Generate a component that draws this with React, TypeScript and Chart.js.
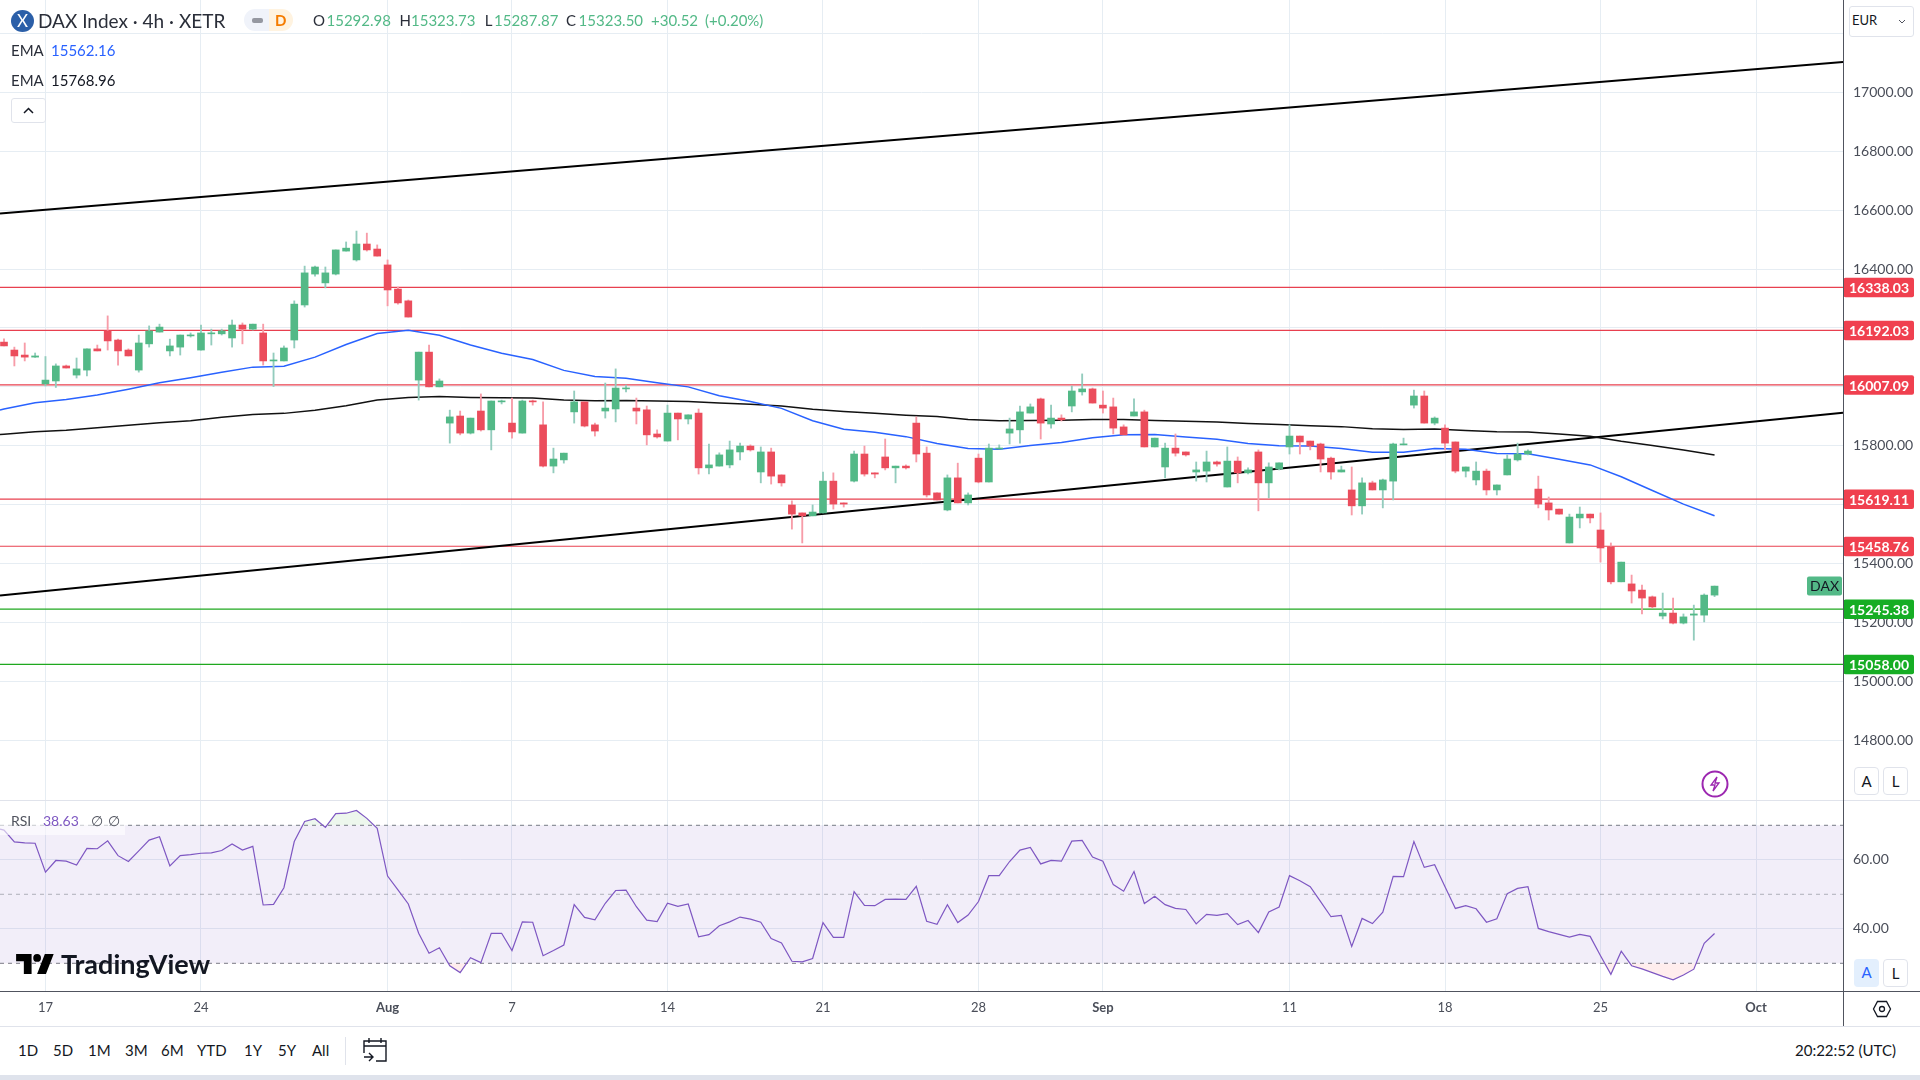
import React, { useEffect, useRef } from "react";
import { Chart, registerables } from "chart.js";

Chart.register(...registerables);

const X_MIN = -0.386;
const X_MAX = 177.39;
const PRICE_MIN = 14597.3;
const PRICE_MAX = 17313.5;
const RSI_MIN = 21.97;
const RSI_MAX = 77.33;
const AXIS_WIDTH = 77;

// 4h bars, the chart starts at bar 0 and ends at bar 165
const opens = [
  16152, 16125, 16108, 16101, 16010, 16020, 16071, 16040, 16057, 16129,
  16190, 16159, 16125, 16057, 16146, 16186, 16122, 16135, 16173, 16125,
  16180, 16180, 16166, 16210, 16196, 16183, 16088, 16088, 16159, 16278,
  16383, 16353, 16383, 16461, 16431, 16485, 16468, 16414, 16332, 16292,
  16023, 16118, 16000, 15877, 15901, 15843, 15918, 15854, 15949, 15877,
  15843, 15952, 15871, 15731, 15752, 15915, 15949, 15871, 15918, 15925,
  15993, 15928, 15922, 15840, 15816, 15911, 15891, 15911, 15725, 15731,
  15735, 15779, 15799, 15711, 15779, 15701, 15599, 15572, 15562, 15572,
  15680, 15606, 15680, 15772, 15708, 15762, 15725, 15731, 15877, 15775,
  15640, 15582, 15691, 15606, 15758, 15677, 15789, 15843, 15854, 15911,
  15959, 15874, 15894, 15935, 15983, 15993, 15938, 15932, 15864, 15901,
  15915, 15796, 15728, 15792, 15779, 15711, 15714, 15745, 15660, 15748,
  15708, 15779, 15674, 15721, 15796, 15833, 15816, 15806, 15758, 15711,
  15650, 15596, 15674, 15650, 15680, 15803, 15938, 15969, 15877, 15860,
  15813, 15714, 15684, 15714, 15650, 15701, 15752, 15772, 15653, 15606,
  15585, 15470, 15555, 15568, 15514, 15457, 15338, 15331, 15310, 15287,
  15222, 15232, 15198, 15225, 15225, 15292.98,
];
const highs = [
  16163, 16135, 16149, 16115, 16103, 16078, 16074, 16098, 16129, 16142,
  16241, 16162, 16129, 16176, 16207, 16213, 16162, 16176, 16183, 16210,
  16196, 16196, 16227, 16217, 16213, 16213, 16115, 16139, 16292, 16410,
  16410, 16407, 16465, 16492, 16529, 16522, 16482, 16431, 16339, 16295,
  16118, 16142, 16027, 15921, 15918, 15894, 15976, 15952, 15955, 15962,
  15955, 15955, 15949, 15792, 15775, 15986, 15949, 15877, 16013, 16061,
  16006, 15962, 15935, 15854, 15938, 15911, 15905, 15925, 15806, 15776,
  15816, 15809, 15803, 15796, 15792, 15701, 15613, 15572, 15599, 15711,
  15708, 15606, 15782, 15799, 15708, 15823, 15731, 15735, 15898, 15796,
  15640, 15701, 15741, 15640, 15772, 15806, 15803, 15894, 15935, 15942,
  15962, 15938, 15905, 16003, 16044, 15996, 15986, 15962, 15871, 15959,
  15921, 15826, 15809, 15840, 15779, 15745, 15782, 15748, 15796, 15762,
  15725, 15786, 15742, 15742, 15871, 15833, 15816, 15809, 15762, 15731,
  15728, 15691, 15680, 15687, 15809, 15826, 15989, 15986, 15898, 15871,
  15813, 15728, 15745, 15721, 15667, 15769, 15809, 15786, 15697, 15626,
  15585, 15568, 15592, 15568, 15572, 15470, 15405, 15361, 15327, 15290,
  15300, 15283, 15229, 15259, 15297, 15323.73,
];
const lows = [
  16139, 16071, 16088, 16100, 16003, 15998, 16064, 16030, 16037, 16122,
  16125, 16074, 16105, 16050, 16135, 16186, 16105, 16108, 16169, 16125,
  16142, 16176, 16135, 16146, 16193, 16074, 16001, 16088, 16132, 16271,
  16376, 16336, 16380, 16461, 16427, 16461, 16444, 16275, 16281, 16237,
  15955, 16000, 16000, 15809, 15837, 15840, 15850, 15786, 15942, 15826,
  15843, 15938, 15728, 15708, 15741, 15877, 15864, 15833, 15894, 15881,
  15983, 15874, 15803, 15826, 15816, 15820, 15874, 15704, 15704, 15731,
  15725, 15752, 15782, 15674, 15670, 15663, 15517, 15470, 15562, 15572,
  15585, 15592, 15677, 15697, 15691, 15718, 15674, 15721, 15745, 15626,
  15616, 15579, 15606, 15599, 15674, 15677, 15789, 15806, 15809, 15911,
  15823, 15860, 15884, 15915, 15972, 15945, 15911, 15840, 15837, 15901,
  15796, 15796, 15691, 15765, 15765, 15680, 15677, 15731, 15660, 15674,
  15704, 15579, 15623, 15718, 15772, 15772, 15786, 15711, 15687, 15711,
  15565, 15568, 15650, 15589, 15616, 15803, 15928, 15877, 15871, 15786,
  15708, 15694, 15667, 15633, 15633, 15701, 15748, 15769, 15589, 15548,
  15568, 15470, 15521, 15538, 15405, 15331, 15338, 15266, 15229, 15249,
  15212, 15195, 15195, 15140, 15202, 15287.87,
];
const closes = [
  16139, 16105, 16101, 16105, 16023, 16071, 16064, 16061, 16129, 16122,
  16156, 16122, 16105, 16149, 16190, 16203, 16139, 16176, 16176, 16183,
  16183, 16190, 16210, 16196, 16213, 16088, 16091, 16132, 16281, 16387,
  16407, 16387, 16465, 16471, 16485, 16465, 16444, 16329, 16285, 16237,
  16118, 16000, 16020, 15898, 15843, 15894, 15854, 15952, 15952, 15847,
  15952, 15949, 15731, 15755, 15775, 15949, 15867, 15850, 15928, 15996,
  15996, 15918, 15837, 15830, 15911, 15891, 15905, 15725, 15735, 15769,
  15786, 15799, 15786, 15779, 15697, 15674, 15568, 15562, 15575, 15680,
  15602, 15602, 15772, 15704, 15704, 15725, 15731, 15725, 15772, 15633,
  15616, 15691, 15606, 15633, 15677, 15792, 15792, 15857, 15915, 15932,
  15877, 15894, 15888, 15986, 15993, 15945, 15928, 15860, 15837, 15915,
  15796, 15826, 15792, 15775, 15769, 15718, 15745, 15738, 15748, 15708,
  15718, 15674, 15728, 15742, 15833, 15813, 15799, 15755, 15711, 15718,
  15596, 15674, 15650, 15684, 15806, 15806, 15969, 15877, 15894, 15809,
  15714, 15728, 15714, 15650, 15667, 15755, 15772, 15782, 15602, 15582,
  15568, 15558, 15568, 15555, 15453, 15338, 15405, 15307, 15283, 15253,
  15232, 15198, 15219, 15229, 15293, 15323.5,
];

const emaBars = [X_MIN, ...closes.map((_, i) => i).filter((i) => i % 3 === 0)];
const emaFast = [
  15921, 15925, 15946, 15957, 15972, 15992, 16014, 16031, 16050, 16067, 16070,
  16101, 16144, 16181, 16192, 16175, 16142, 16114, 16093, 16056, 16035,
  16029, 16014, 16000, 15970, 15950, 15927, 15885, 15856, 15846, 15831,
  15808, 15791, 15788, 15801, 15811, 15827, 15837, 15838, 15830, 15822,
  15808, 15800, 15799, 15791, 15778, 15778, 15791, 15788, 15774, 15773,
  15754, 15735, 15695, 15648, 15602, 15562.16,
];
const emaSlow = [
  15838, 15839, 15848, 15853, 15861, 15870, 15878, 15885, 15897, 15906, 15910,
  15921, 15936, 15955, 15964, 15967, 15964, 15963, 15962, 15955, 15953,
  15954, 15952, 15950, 15945, 15941, 15935, 15924, 15916, 15910, 15904,
  15899, 15889, 15885, 15886, 15887, 15889, 15889, 15886, 15883, 15881,
  15876, 15872, 15868, 15865, 15858, 15855, 15857, 15852, 15848, 15847,
  15840, 15832, 15815, 15801, 15786, 15768.96,
];

const rsiLeftEdge = 68.9;
const rsiValues = [
  68.6, 65.2, 64.9, 64.8, 56.4, 59.8, 59.6, 58.5, 63.3, 63.2,
  65.5, 61.2, 59.5, 62.6, 65.7, 66.7, 58.2, 61.2, 61.5, 61.9,
  62.0, 62.7, 64.6, 62.8, 63.9, 46.9, 47.1, 51.9, 65.3, 71.1,
  71.9, 69.4, 73.4, 73.5, 74.3, 72.0, 69.1, 55.3, 51.3, 47.2,
  38.7, 32.9, 34.5, 29.3, 27.3, 31.6, 30.2, 38.7, 38.7, 33.7,
  42.0, 41.9, 32.2, 33.7, 35.3, 47.0, 43.3, 42.6, 47.4, 51.1,
  51.2, 46.4, 42.5, 42.1, 47.4, 46.5, 47.2, 37.7, 38.3, 40.9,
  42.0, 43.4, 42.8, 41.9, 37.2, 35.9, 30.6, 30.4, 31.4, 41.8,
  37.5, 37.5, 50.8, 46.8, 46.7, 48.5, 48.6, 48.5, 52.3, 42.2,
  41.3, 47.0, 41.8, 44.0, 47.9, 55.4, 55.4, 59.5, 62.8, 63.6,
  58.8, 59.8, 59.6, 65.4, 65.6, 60.8, 59.6, 52.8, 50.9, 56.6,
  47.3, 49.4, 47.0, 45.9, 45.6, 41.4, 44.2, 43.9, 44.4, 41.2,
  42.4, 38.9, 44.9, 46.3, 55.4, 53.9, 52.2, 47.9, 43.5, 43.9,
  34.9, 43.0, 41.5, 44.8, 55.2, 55.1, 65.3, 57.8, 58.6, 52.2,
  45.9, 46.7, 45.8, 41.9, 42.9, 50.2, 51.7, 52.2, 40.1, 39.2,
  38.4, 37.6, 38.4, 37.8, 32.2, 26.8, 33.5, 29.3, 28.4, 27.3,
  26.2, 25.2, 26.6, 28.3, 35.8, 38.63,
];

const redLevels = [16338.03, 16192.03, 16007.09, 15619.11, 15458.76];
const greenLevels = [15245.38, 15058.0];
// trend lines, price at the left and right edge of the plot
const upperTrend = [16589, 17103];
const lowerTrend = [15292, 15912];

const priceTicks = [14800, 15000, 15200, 15400, 15600, 15800, 16000, 16200, 16400, 16600, 16800, 17000, 17200];
const rsiTicks = [40, 60];
const rsiBands = [70, 50, 30];
const dateTickBars = [4, 19, 37, 49, 64, 79, 94, 106, 124, 139, 154, 169];
const dateTickLabels = ["17", "24", "Aug", "7", "14", "21", "28", "Sep", "11", "18", "25", "Oct"];
const rangeButtons = [["1D", 18], ["5D", 53], ["1M", 88], ["3M", 125], ["6M", 161], ["YTD", 197], ["1Y", 244], ["5Y", 278], ["All", 312]];

const UP = "#53b987";
const DOWN = "#eb4d5c";
const UP_WICK = "#93ccbd";
const DOWN_WICK = "#f79ca8";
const RED_LINE = "#e8404f";
const GREEN_LINE = "#1fa81f";
const GRID = "#e6edf3";
const FONT = "Lato, 'Open Sans', sans-serif";

const bars = closes.map((_, i) => i);
const isUp = (i: number) => closes[i] >= opens[i];

const hline = (value: number) => [{ x: X_MIN, y: value }, { x: X_MAX, y: value }];
const lineSet = (data: any[], color: string, width: number, order: number, extra: any = {}) => ({
  type: "line",
  data,
  borderColor: color,
  borderWidth: width,
  pointRadius: 0,
  tension: 0,
  order,
  ...extra,
});

// no label padding on the axes, the plot has to fill the canvas exactly
const zeroPadding = (axis: any) => {
  axis.paddingTop = 0;
  axis.paddingBottom = 0;
  axis.paddingLeft = 0;
  axis.paddingRight = 0;
};

const xAxis = (showLabels: boolean) => ({
  type: "linear",
  min: X_MIN,
  max: X_MAX,
  offset: false,
  border: { display: false },
  grid: { color: GRID, offset: false, drawTicks: false, lineWidth: 1 },
  ticks: {
    display: showLabels,
    autoSkip: false,
    maxRotation: 0,
    padding: 9,
    color: "#4a4e59",
    font: (ctx: any) => ({
      family: FONT,
      size: 13,
      weight: dateTickLabels[dateTickBars.indexOf(ctx.tick?.value)]?.length === 3 ? "bold" : "normal",
    }),
    callback: (v: number) => dateTickLabels[dateTickBars.indexOf(v)],
  },
  afterBuildTicks: (axis: any) => {
    axis.ticks = dateTickBars.map((value) => ({ value }));
  },
  afterFit: (axis: any) => {
    zeroPadding(axis);
    axis.height = showLabels ? 35 : 0;
  },
});

const yAxis = (min: number, max: number, tickValues: number[], hideAbove: number) => ({
  position: "right",
  min,
  max,
  border: { display: false },
  grid: { color: GRID, drawTicks: false, lineWidth: 1 },
  ticks: {
    padding: 10,
    autoSkip: false,
    color: "#4a4e59",
    font: { family: FONT, size: 14 },
    callback: (v: number) => (v > hideAbove ? "" : v.toFixed(2)),
  },
  afterBuildTicks: (axis: any) => {
    axis.ticks = tickValues.map((value) => ({ value }));
  },
  afterFit: (axis: any) => {
    zeroPadding(axis);
    axis.width = AXIS_WIDTH;
  },
});

// price tags on the axis and the symbol tag beside it
const priceTags = {
  id: "priceTags",
  afterDraw(chart: any) {
    const { ctx, chartArea, scales } = chart;
    const tag = (value: number, color: string) => {
      const y = scales.y.getPixelForValue(value);
      ctx.fillStyle = color;
      ctx.beginPath();
      ctx.roundRect(chartArea.right + 0.5, y - 9.5, 70.5, 19.5, 2);
      ctx.fill();
      ctx.fillStyle = "#ffffff";
      ctx.font = `bold 14px ${FONT}`;
      ctx.textAlign = "center";
      ctx.textBaseline = "middle";
      ctx.fillText(value.toFixed(2), chartArea.right + 36, y + 1.5);
    };
    redLevels.forEach((v) => tag(v, "#f0404f"));
    greenLevels.forEach((v) => tag(v, "#16ad24"));

    const last = scales.y.getPixelForValue(closes[closes.length - 1]);
    ctx.fillStyle = UP;
    ctx.beginPath();
    ctx.roundRect(chartArea.right - 36, last - 9.5, 35, 19, 2);
    ctx.fill();
    ctx.fillStyle = "#131722";
    ctx.font = `14px ${FONT}`;
    ctx.textAlign = "center";
    ctx.textBaseline = "middle";
    ctx.fillText("DAX", chartArea.right - 18.5, last + 0.5);
  },
};

const Txt = ({ x, y, c = "#131722", s = 15, w = 400, children }: any) => (
  <span
    style={{
      position: "absolute",
      left: x,
      top: y - 12,
      height: 24,
      lineHeight: "24px",
      color: c,
      fontSize: s,
      fontWeight: w,
      fontFamily: FONT,
      whiteSpace: "nowrap",
    }}
  >
    {children}
  </span>
);

const Box = ({ x, y, w, h, style }: any) => (
  <div style={{ position: "absolute", left: x, top: y, width: w, height: h, ...style }} />
);

const SquareButton = ({ x, y, label, active }: any) => (
  <div
    style={{
      position: "absolute",
      left: x,
      top: y,
      width: 25,
      height: 28,
      boxSizing: "border-box",
      border: active ? "none" : "1px solid #e0e3eb",
      background: active ? "#e3effd" : "#ffffff",
      borderRadius: 4,
      color: active ? "#2962ff" : "#131722",
      fontFamily: FONT,
      fontSize: 15,
      lineHeight: "26px",
      textAlign: "center",
    }}
  >
    {label}
  </div>
);

export default function App() {
  const priceRef = useRef<HTMLCanvasElement>(null);
  const rsiRef = useRef<HTMLCanvasElement>(null);

  useEffect(() => {
    document.body.style.margin = "0";
    document.body.style.background = "#ffffff";
    if (!priceRef.current || !rsiRef.current) return;

    const priceChart = new Chart(priceRef.current, {
      type: "bar",
      data: {
        datasets: [
          ...redLevels.map((v) => lineSet(hline(v), RED_LINE, 1.2, 6)),
          ...greenLevels.map((v) => lineSet(hline(v), GREEN_LINE, 1.2, 6)),
          lineSet([{ x: X_MIN, y: upperTrend[0] }, { x: X_MAX, y: upperTrend[1] }], "#000000", 2, 5),
          lineSet([{ x: X_MIN, y: lowerTrend[0] }, { x: X_MAX, y: lowerTrend[1] }], "#000000", 2, 5),
          lineSet(emaBars.map((x, i) => ({ x, y: emaSlow[i] })), "#111111", 1.5, 4),
          lineSet(emaBars.map((x, i) => ({ x, y: emaFast[i] })), "#2962ff", 1.5, 3),
          {
            type: "bar",
            data: bars.map((x) => ({ x, y: [lows[x], highs[x]] })),
            backgroundColor: bars.map((i) => (isUp(i) ? UP_WICK : DOWN_WICK)),
            barThickness: 1.2,
            grouped: false,
            order: 2,
          },
          {
            type: "bar",
            data: bars.map((x) => ({ x, y: [opens[x], closes[x]] })),
            backgroundColor: bars.map((i) => (isUp(i) ? UP : DOWN)),
            barThickness: 7,
            minBarLength: 1,
            grouped: false,
            order: 1,
          },
        ] as any,
      },
      options: {
        animation: false,
        responsive: false,
        events: [],
        layout: { padding: 0 },
        plugins: { legend: { display: false }, tooltip: { enabled: false } },
        scales: { x: xAxis(false), y: yAxis(PRICE_MIN, PRICE_MAX, priceTicks, 17000) } as any,
      },
      plugins: [priceTags],
    } as any);

    const rsiLine = [{ x: X_MIN, y: rsiLeftEdge }, ...bars.map((x) => ({ x, y: rsiValues[x] }))];
    const rsiChart = new Chart(rsiRef.current, {
      type: "line",
      data: {
        datasets: [
          lineSet(hline(rsiBands[0]), "rgba(0,0,0,0)", 0, 6, {
            fill: { target: { value: rsiBands[2] } },
            backgroundColor: "rgba(126,87,194,0.1)",
          }),
          lineSet(hline(rsiBands[0]), "#787b86", 1, 5, { borderDash: [4, 4] }),
          lineSet(hline(rsiBands[1]), "rgba(120,123,134,0.55)", 1, 5, { borderDash: [4, 4] }),
          lineSet(hline(rsiBands[2]), "#787b86", 1, 5, { borderDash: [4, 4] }),
          lineSet(rsiLine, "#7e57c2", 1.2, 1, {
            fill: { target: { value: rsiBands[0] }, above: "rgba(76,175,80,0.1)", below: "rgba(0,0,0,0)" },
          }),
          lineSet(rsiLine, "#7e57c2", 0, 1, {
            fill: { target: { value: rsiBands[2] }, above: "rgba(0,0,0,0)", below: "rgba(255,82,82,0.1)" },
          }),
        ] as any,
      },
      options: {
        animation: false,
        responsive: false,
        events: [],
        layout: { padding: 0 },
        plugins: { legend: { display: false }, tooltip: { enabled: false } },
        scales: { x: xAxis(true), y: yAxis(RSI_MIN, RSI_MAX, rsiTicks, 100) } as any,
      },
    } as any);

    return () => {
      priceChart.destroy();
      rsiChart.destroy();
    };
  }, []);

  return (
    <div style={{ position: "relative", width: 1920, height: 1080, overflow: "hidden", background: "#ffffff" }}>
      <canvas ref={priceRef} width={1920} height={800} style={{ position: "absolute", left: 0, top: 0 }} />
      <canvas ref={rsiRef} width={1920} height={226} style={{ position: "absolute", left: 0, top: 800 }} />

      {/* pane separators */}
      <Box x={0} y={800} w={1920} h={1} style={{ background: "#e0e3eb" }} />
      <Box x={0} y={991} w={1920} h={1} style={{ background: "#50535e" }} />
      <Box x={1843} y={0} w={1} h={1026} style={{ background: "#50535e" }} />
      <Box x={0} y={1026} w={1920} h={1} style={{ background: "#e0e3eb" }} />
      <Box x={0} y={1075} w={1920} h={5} style={{ background: "#dfe3ec" }} />

      {/* header */}
      <div
        style={{
          position: "absolute", left: 11, top: 10, width: 23, height: 22, borderRadius: "50%",
          background: "#2b5fa8", color: "#ffffff", fontFamily: FONT, fontSize: 17, lineHeight: "22px", textAlign: "center",
        }}
      >
        X
      </div>
      <Txt x={38} y={21} s={19} c="#2a2e39">DAX Index · 4h · XETR</Txt>
      <Box x={244} y={9} w={25} h={22} style={{ background: "#f0f3fa", borderRadius: "11px 0 0 11px" }} />
      <Box x={252} y={18} w={11} h={5} style={{ background: "#9598a1", borderRadius: 2 }} />
      <Box x={269} y={9} w={24} h={22} style={{ background: "#fff3e0", borderRadius: "0 11px 11px 0" }} />
      <Txt x={275} y={20} s={15} w={700} c="#f57c00">D</Txt>
      {[["O", 313, "15292.98", 326.5], ["H", 399.5, "15323.73", 411], ["L", 484.7, "15287.87", 494], ["C", 566, "15323.50", 578.6]].map(
        ([k, kx, v, vx]: any) => (
          <React.Fragment key={k}>
            <Txt x={kx} y={20} c="#2a2e39">{k}</Txt>
            <Txt x={vx} y={20} c={UP}>{v}</Txt>
          </React.Fragment>
        )
      )}
      <Txt x={651} y={20} c={UP}>+30.52</Txt>
      <Txt x={705} y={20} c={UP}>(+0.20%)</Txt>
      <Txt x={11} y={50} c="#2a2e39">EMA</Txt>
      <Txt x={51} y={50} c="#2962ff">15562.16</Txt>
      <Txt x={11} y={80} c="#2a2e39">EMA</Txt>
      <Txt x={51} y={80} c="#131722">15768.96</Txt>
      <Box x={11} y={98} w={35} h={25} style={{ background: "#ffffff", border: "1px solid #e0e3eb", borderRadius: 3, boxSizing: "border-box" }} />
      <svg style={{ position: "absolute", left: 22, top: 106 }} width={13} height={9}>
        <path d="M2 7 L6.5 2.5 L11 7" stroke="#131722" strokeWidth={1.5} fill="none" />
      </svg>

      {/* currency */}
      <Box x={1849} y={6} w={65} h={31} style={{ background: "#ffffff", border: "1px solid #e0e3eb", borderRadius: 3, boxSizing: "border-box" }} />
      <Txt x={1852} y={20} s={13}>EUR</Txt>
      <svg style={{ position: "absolute", left: 1897, top: 18 }} width={10} height={8}>
        <path d="M2 2 L5 5 L8 2" stroke="#50535e" strokeWidth={1} fill="none" />
      </svg>

      {/* flash icon and axis buttons */}
      <svg style={{ position: "absolute", left: 1700, top: 769 }} width={30} height={30}>
        <circle cx={15} cy={15} r={12.5} stroke="#9c27b0" strokeWidth={2} fill="none" />
        <path d="M17 8 L11 16 H15 L13 22 L19 14 H15 Z" fill="none" stroke="#9c27b0" strokeWidth={1.3} />
      </svg>
      <SquareButton x={1854} y={767} label="A" />
      <SquareButton x={1883} y={767} label="L" />
      <SquareButton x={1854} y={959} label="A" active />
      <SquareButton x={1883} y={959} label="L" />

      {/* RSI legend */}
      <Box x={0} y={815} w={125} h={20} style={{ background: "rgba(255,255,255,0.6)" }} />
      <Txt x={11} y={821} s={14} c="#50535e">RSI</Txt>
      <Txt x={43} y={821} s={14} c="#7e57c2">38.63</Txt>
      <Txt x={91} y={821} s={14} c="#50535e">∅</Txt>
      <Txt x={108} y={821} s={14} c="#50535e">∅</Txt>

      {/* watermark */}
      <svg style={{ position: "absolute", left: 14, top: 953 }} width={44} height={21} viewBox="0 0 36 19">
        <path d="M14 1H0v6.5h7V19h7V1Zm13 18h-8l7-18h8l-7 18ZM19 8a3.5 3.5 0 1 0 0-7 3.5 3.5 0 0 0 0 7Z" fill="#000000" />
      </svg>
      <Txt x={61} y={964} s={27} w={700} c="#131722">TradingView</Txt>

      {/* settings */}
      <svg style={{ position: "absolute", left: 1872, top: 999 }} width={20} height={20} viewBox="0 0 20 20">
        <path d="M5.5 2.5 H14.5 L18.5 10 L14.5 17.5 H5.5 L1.5 10 Z" fill="none" stroke="#131722" strokeWidth={1.3} />
        <circle cx={10} cy={10} r={2.5} fill="none" stroke="#131722" strokeWidth={1.3} />
      </svg>

      {/* bottom toolbar */}
      {rangeButtons.map(([label, x]: any) => (
        <Txt key={label} x={x} y={1050} s={15} c="#131722">{label}</Txt>
      ))}
      <Box x={345} y={1037} w={1} h={28} style={{ background: "#e0e3eb" }} />
      <svg style={{ position: "absolute", left: 362, top: 1037 }} width={26} height={26} viewBox="0 0 26 26">
        <path d="M2 9 H24 M7 1 V6 M19 1 V6 M2 16 V4 H24 V24 H14 M2 20 H10 M7 16 L11 20 L7 24" fill="none" stroke="#131722" strokeWidth={1.4} />
      </svg>
      <Txt x={1795} y={1050} s={15} c="#131722">20:22:52 (UTC)</Txt>
    </div>
  );
}
